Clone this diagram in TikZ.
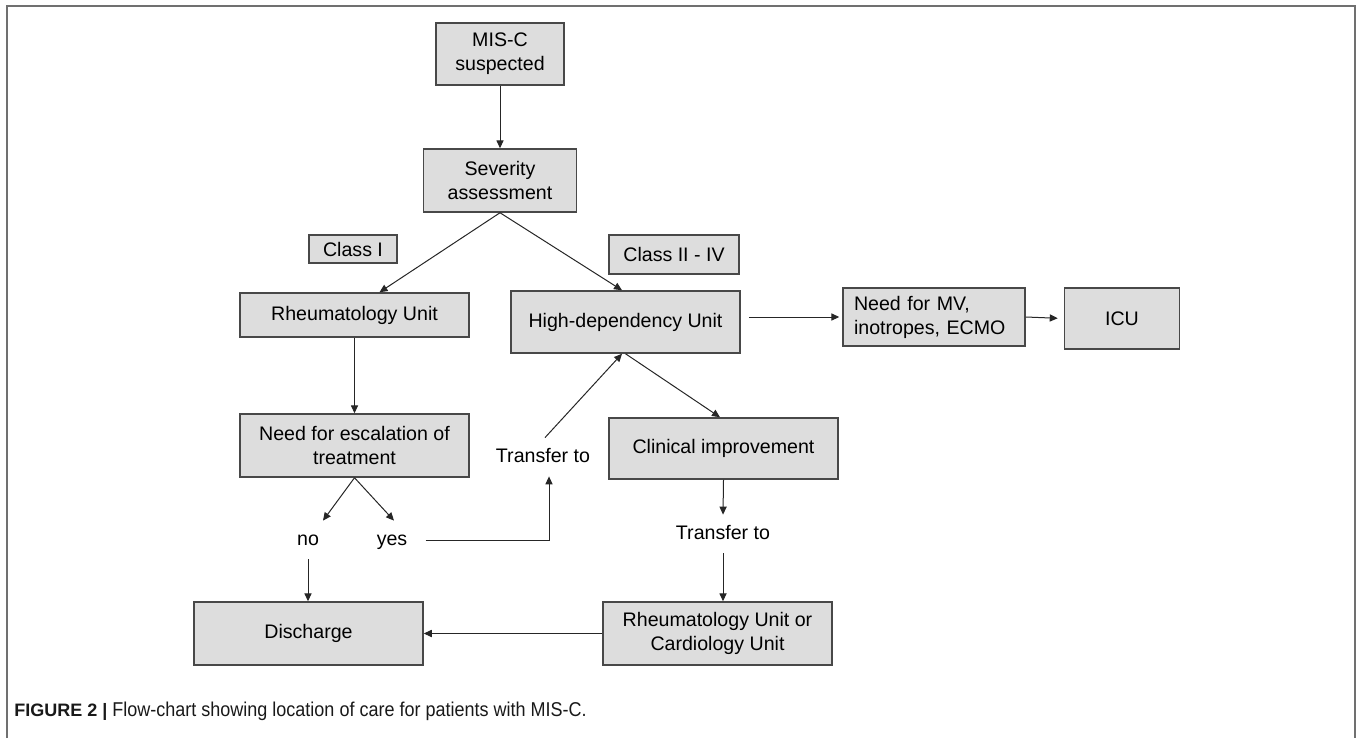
\documentclass[tikz,border=0pt]{standalone}
\usepackage{fontspec}
\setmainfont{Liberation Sans}
\usetikzlibrary{arrows.meta}
\definecolor{boxfill}{HTML}{DDDDDD}
\definecolor{boxline}{HTML}{484848}
\definecolor{frameline}{HTML}{707070}
\tikzset{
  box/.style={draw=boxline, fill=boxfill, line width=0.75pt, align=center, inner sep=0pt, font=\fontsize{9.8}{12}\selectfont},
  lbl/.style={inner xsep=2pt, inner ysep=5pt, text height=7pt, text depth=2pt, font=\fontsize{9.8}{12}\selectfont},
  arr/.style={draw=black!85, line width=0.5pt, -{Triangle[length=4pt,width=3.6pt]}},
}
\begin{document}
\begin{tikzpicture}[x=0.5pt,y=-0.5pt]  %location of care
\useasboundingbox (0,0) rectangle (1358,738);
\draw[frameline, line width=0.8pt] (7,738) -- (7,6) -- (1355,6) -- (1355,738);

\node[box, minimum width=64pt, minimum height=31pt] (mis) at (500,54) {MIS-C\\suspected};
\node[box, minimum width=76.5pt, minimum height=31.5pt] (sev) at (500,180.5) {Severity\\assessment};
\node[box, minimum width=44pt, minimum height=14pt] (cl1) at (353,249) {Class I};
\node[box, minimum width=65pt, minimum height=19.5pt] (cl2) at (674,254.5) {Class II - IV};
\node[box, minimum width=114.5pt, minimum height=22pt] (rheum) at (354.5,315) {Rheumatology Unit};
\node[box, minimum width=114.5pt, minimum height=31pt] (hdu) at (625.5,322) {High-dependency Unit};
\node[box, minimum width=91pt, minimum height=29pt, text width=80pt, inner xsep=5.5pt, align=left] (mv) at (934,317) {Need for MV,\\inotropes, ECMO};
\node[box, minimum width=57.5pt, minimum height=30.5pt] (icu) at (1122,318.5) {ICU};
\node[box, minimum width=114.5pt, minimum height=31.5pt] (esc) at (354.5,445.5) {Need for escalation of\\treatment};
\node[box, minimum width=114.5pt, minimum height=30.5pt] (clin) at (723.5,448.5) {Clinical improvement};
\node[box, minimum width=114.5pt, minimum height=31.5pt] (dis) at (308.5,633.5) {Discharge};
\node[box, minimum width=114.5pt, minimum height=31.5pt] (rc) at (717.5,633.5) {Rheumatology Unit or\\Cardiology Unit};

\node[lbl] (tr1) at (543,457) {Transfer to};
\node[lbl] (no) at (308,540) {no};
\node[lbl] (yes) at (392,540) {yes};
\node[lbl] (tr2) at (723,534) {Transfer to};

\draw[arr] (mis) -- (sev);
\draw[arr] (sev.south) -- ([xshift=12.5pt]rheum.north);
\draw[arr] (sev.south) -- ([xshift=-1.75pt]hdu.north);
\draw[arr] (rheum) -- (esc);
\draw[arr] (esc.south) -- ([xshift=7.5pt]no.north);
\draw[arr] (esc.south) -- ([xshift=1pt]yes.north);
\draw[arr] (no.south) -- (no.south |- dis.north);
\draw[arr, shorten <=7pt] (yes.east) -| ([xshift=3pt]tr1.south);
\draw[arr] ([xshift=1pt]tr1.north) -- ([xshift=-1.75pt]hdu.south);
\draw[arr] (hdu.south) -- ([xshift=-1.75pt]clin.north);
\draw[arr] (clin.south) -- (tr2.north);
\draw[arr] (tr2.south) -- (tr2.south |- rc.north);
\draw[arr] (rc.west) -- (dis.east);
\draw[arr, shorten <=4pt, shorten >=1.5pt] (mv.west -| hdu.east) -- (mv.west);
\draw[arr, shorten >=3pt] (mv.east) -- (icu.west);

\node[anchor=west, inner sep=0pt, text=black!90] (cap) at (14,711)
  {\fontsize{9}{11}\selectfont\textbf{FIGURE 2 |} \fontsize{10}{11}\selectfont\scalebox{0.9}[1]{Flow-chart showing location of care for patients with MIS-C.}};
\end{tikzpicture}
\end{document}
